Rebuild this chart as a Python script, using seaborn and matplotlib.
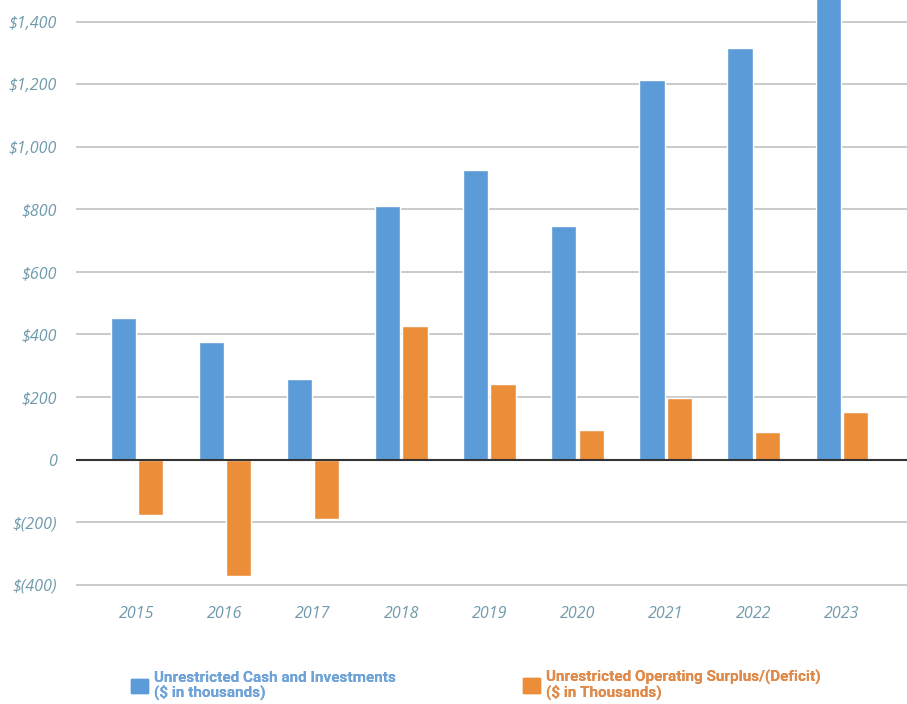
import pandas as pd
import matplotlib.pyplot as plt
import seaborn as sns
from matplotlib.ticker import FuncFormatter

years = ['2015', '2016', '2017', '2018', '2019', '2020', '2021', '2022', '2023']
cash = [454, 377, 256, 812, 927, 748, 1214, 1317, 1500]
surplus = [-176, -374, -189, 428, 243, 96, 198, 89, 153]
series_names = ['Unrestricted Cash and Investments\n($ in thousands)',
                'Unrestricted Operating Surplus/(Deficit)\n($ in Thousands)']

df = pd.DataFrame({
    'year': years * 2,
    'value': cash + surplus,
    'series': [series_names[0]] * len(years) + [series_names[1]] * len(years),
})

sns.set_style('white')
plt.rcParams['font.family'] = ['Open Sans', 'DejaVu Sans']

blue = '#5a9bd8'
orange = '#ec8d3a'
tick_col = '#6f9aab'

fig = plt.figure(figsize=(9.07, 7.04), dpi=100)
ax = fig.add_axes([0.084, 0.163, 0.916, 0.837])

sns.barplot(data=df, x='year', y='value', hue='series', palette=[blue, orange],
            saturation=1, width=0.62, gap=0.08, ax=ax, legend=False)

ax.set_ylim(-415, 1470)
ax.set_xlim(-0.69, 8.74)
ax.set_yticks(range(-400, 1401, 200))
ax.yaxis.grid(True, color='#cacaca', linewidth=1.4)
ax.set_axisbelow(True)
ax.axhline(0, color='#333333', linewidth=1.5, zorder=3)

def money(v, pos):
    if v == 0:
        return '0'
    if v < 0:
        return '$({:,.0f})'.format(-v)
    return '${:,.0f}'.format(v)

ax.yaxis.set_major_formatter(FuncFormatter(money))
ax.tick_params(axis='both', length=0, labelsize=11.5, labelcolor=tick_col)
ax.tick_params(axis='y', pad=14)
ax.tick_params(axis='x', pad=12)
for lab in ax.get_xticklabels() + ax.get_yticklabels():
    lab.set_fontstyle('italic')
ax.set_xlabel('')
ax.set_ylabel('')
for s in ax.spines.values():
    s.set_visible(False)

# legend: two separate entries under the chart
leg_font = {'family': ['Roboto', 'DejaVu Sans'], 'weight': 'bold', 'size': 11}
anchors = [(0.136, -0.005), (0.568, -0.005)]
text_cols = ['#6fa3d8', '#e08a4a']
for i, col in enumerate([blue, orange]):
    h = plt.Rectangle((0, 0), 1, 1, color=col)
    leg = fig.legend([h], [series_names[i]], loc='lower left', bbox_to_anchor=anchors[i],
                     frameon=False, handlelength=1.1, handleheight=1.1, handletextpad=0.4,
                     borderpad=0.0, prop=leg_font)
    for t in leg.get_texts():
        t.set_color(text_cols[i])
        t.set_linespacing(0.95)
    fig.add_artist(leg)

fig.savefig('out.png', dpi=100, facecolor='white')
